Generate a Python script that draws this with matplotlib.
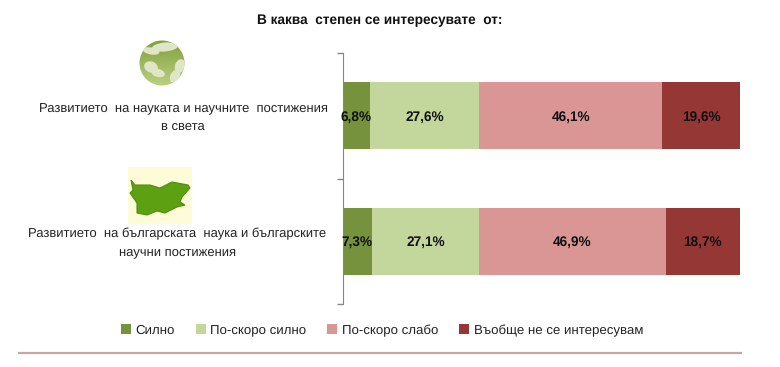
import numpy as np
import matplotlib
matplotlib.use('Agg')
import matplotlib.pyplot as plt
from matplotlib.patches import Circle, Ellipse, Polygon, Rectangle

plt.rcParams['font.family'] = ['Liberation Sans', 'DejaVu Sans']
plt.rcParams['text.hinting'] = 'no_hinting'

W, H = 780, 367

title = 'В каква  степен се интересувате  от:'
categories = ['Развитието  на науката и научните  постижения\nв света',
              'Развитието  на българската  наука и българските\nнаучни постижения']
series_names = ['Силно', 'По-скоро силно', 'По-скоро слабо', 'Въобще не се интересувам']
silno = [6.8, 7.3]
po_skoro_silno = [27.6, 27.1]
po_skoro_slabo = [46.1, 46.9]
vaobshte_ne = [19.6, 18.7]
colors = ['#76923c', '#c3d69b', '#d99694', '#953735']


def px_box(left, top, right, bottom):
    return [left / W, 1 - bottom / H, (right - left) / W, (bottom - top) / H]


def draw_globe(ov):
    grad = np.linspace(0, 1, 64).reshape(-1, 1)
    top_c = np.array([0.50, 0.62, 0.22])
    bot_c = np.array([0.74, 0.82, 0.52])
    img = top_c + (bot_c - top_c) * grad[..., None]
    im = ov.imshow(img, extent=(138, 186, 87, 39), zorder=2, aspect='auto')
    clip = Circle((162, 63), 22.5, transform=ov.transData)
    im.set_clip_path(clip)
    land = '#dfe6c8'
    for (x, y, w, h, a) in [(165, 47, 26, 9, -5), (151, 51, 17, 7, 10), (151, 67, 14, 11, 20),
                            (158, 73, 14, 8, 15), (180, 66, 10, 14, 20), (175, 76, 9, 14, 30)]:
        e = Ellipse((x, y), w, h, angle=a, color=land, lw=0, zorder=3)
        ov.add_patch(e)
        e.set_clip_path(clip)


def draw_bulgaria(ov):
    ov.add_patch(Rectangle((128, 167), 64, 57, color='#fdfbd8', lw=0, zorder=2))
    outline = [(131, 180), (135, 185), (150, 185), (160, 188), (172, 182), (188, 185), (190, 188),
               (182, 197), (180, 202), (185, 205), (177, 207), (165, 213), (157, 211), (147, 215),
               (137, 213), (137, 203), (130, 193), (133, 190)]
    ov.add_patch(Polygon(outline, closed=True, fc='#5da012', ec='#4f8f0c', lw=0.8, zorder=3))


def main() -> None:
    fig = plt.figure(figsize=(W / 100, H / 100), dpi=100, facecolor='white')

    ov = fig.add_axes([0, 0, 1, 1], zorder=0)
    draw_globe(ov)
    draw_bulgaria(ov)
    ov.set_xlim(0, W)
    ov.set_ylim(H, 0)
    ov.axis('off')
    ov.plot([19, 741], [353, 353], color='#c9a5a3', lw=1.6, zorder=1)
    ov.text(379.5, 20, title, ha='center', va='center', fontsize=9.8, fontweight='bold', color='#111111')
    ov.text(183, 117.5, categories[0], ha='center', va='center', fontsize=9.4, color='#222222', linespacing=1.6)
    ov.text(177.5, 243, categories[1], ha='center', va='center', fontsize=9.4, color='#222222', linespacing=1.6)

    ax = fig.add_axes(px_box(342.5, 53, 740, 304), zorder=1)
    ax.patch.set_alpha(0)
    y = np.arange(len(categories))
    left = np.zeros(len(categories))
    all_series = [silno, po_skoro_silno, po_skoro_slabo, vaobshte_ne]
    for name, vals, col in zip(series_names, all_series, colors):
        vals = np.array(vals)
        ax.barh(y, vals, left=left, height=0.535, color=col, label=name, linewidth=0)
        for yi, v, l in zip(y, vals, left):
            ax.annotate(f'{v:.1f}%'.replace('.', ','), xy=(l + v / 2, yi), xytext=(0, -0.7),
                        textcoords='offset points', ha='center', va='center',
                        fontsize=9.8, fontweight='bold', color='#111111')
        left = left + vals

    ax.set_xlim(0, 100)
    ax.set_ylim(1.5, -0.5)
    ax.set_yticks([-0.5, 0.5, 1.5])
    ax.set_yticklabels([])
    ax.tick_params(axis='y', direction='out', length=4, width=1, color='#868686')
    ax.set_xticks([])
    for s in ['top', 'right', 'bottom']:
        ax.spines[s].set_visible(False)
    ax.spines['left'].set_color('#868686')

    ax.legend(loc='center', bbox_to_anchor=(382 / W, 1 - 330.5 / H), bbox_transform=fig.transFigure,
              ncol=4, frameon=False, fontsize=9.5, handlelength=0.75, handleheight=0.75,
              columnspacing=1.6, handletextpad=0.35, labelcolor='#222222')

    fig.savefig('out.png', dpi=100)


if __name__ == '__main__':
    main()
